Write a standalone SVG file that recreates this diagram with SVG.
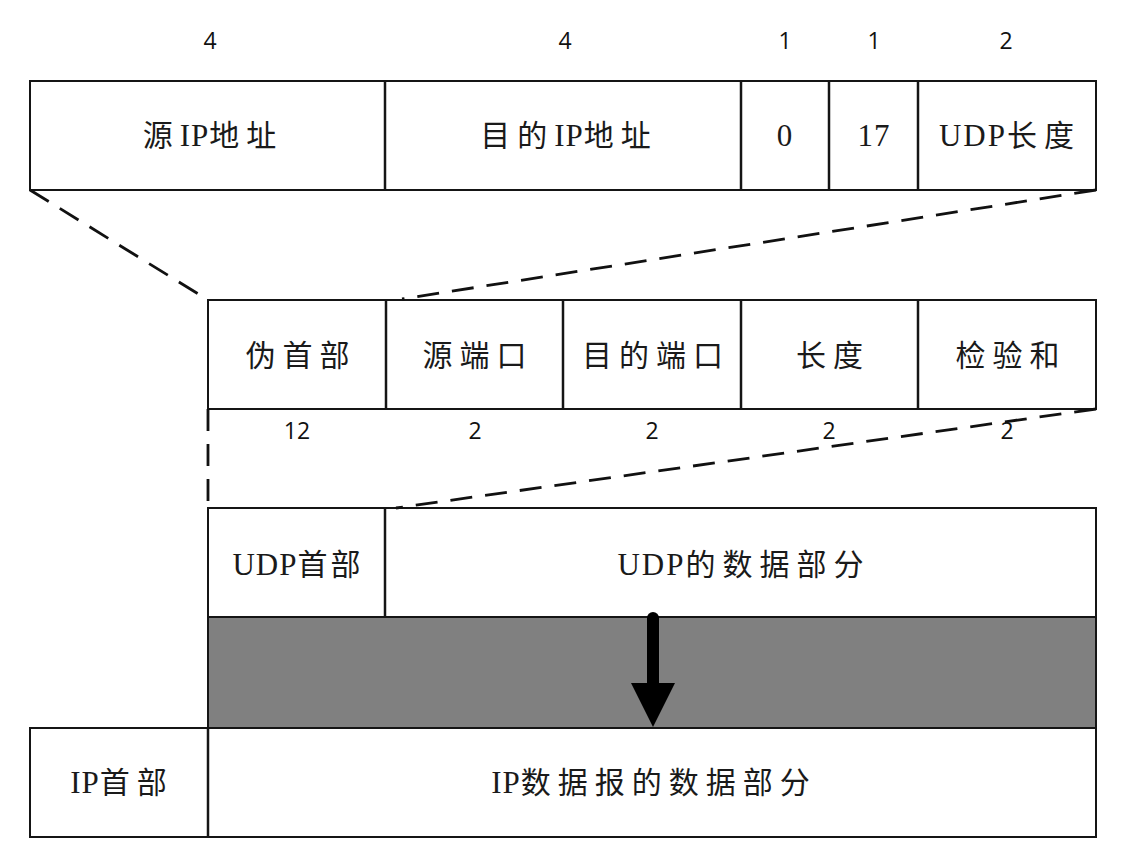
<svg xmlns="http://www.w3.org/2000/svg" width="1135" height="852" viewBox="0 0 1135 852">
  <style>
    .box { fill: #ffffff; stroke: #151515; stroke-width: 2; }
    .grey { fill: #808080; stroke: #151515; stroke-width: 2; }
    .div { stroke: #151515; stroke-width: 2.5; }
    .dash { fill: none; stroke: #111; stroke-width: 2.8; stroke-dasharray: 22 13; }
    .lbl { font-family: "Liberation Serif", "Noto Sans CJK SC", serif; font-size: 30px; fill: #1a1a1a; text-anchor: middle; letter-spacing: 7px; }
    .lat { letter-spacing: 1px; font-size: 31px; }
    .num { font-family: "Open Sans", "Liberation Sans", sans-serif; font-size: 23px; fill: #111; text-anchor: middle; }
  </style>
  <rect width="1135" height="852" fill="#ffffff"/>

  <!-- pseudo header: field sizes -->
  <g id="pseudo-sizes">
    <text class="num" x="210" y="49">4</text>
    <text class="num" x="565" y="49">4</text>
    <text class="num" x="785" y="49">1</text>
    <text class="num" x="874" y="49">1</text>
    <text class="num" x="1006" y="49">2</text>
  </g>

  <!-- pseudo header fields -->
  <g id="pseudo-header">
    <rect class="box" x="30" y="81" width="1066" height="109"/>
    <line class="div" x1="385" y1="81" x2="385" y2="190"/>
    <line class="div" x1="741" y1="81" x2="741" y2="190"/>
    <line class="div" x1="829" y1="81" x2="829" y2="190"/>
    <line class="div" x1="918" y1="81" x2="918" y2="190"/>
    <text class="lbl" x="213" y="146">源<tspan class="lat">IP</tspan>地址</text>
    <text class="lbl" x="569" y="146">目的<tspan class="lat">IP</tspan>地址</text>
    <text class="lbl lat" x="785" y="146">0</text>
    <text class="lbl lat" x="874" y="146">17</text>
    <text class="lbl" x="1010" y="146"><tspan class="lat" style="letter-spacing:2px">UDP</tspan>长度</text>
  </g>

  <!-- UDP user datagram header row -->
  <g id="udp-header">
    <rect class="box" x="208" y="300" width="888" height="109"/>
    <line class="div" x1="386" y1="300" x2="386" y2="409"/>
    <line class="div" x1="563" y1="300" x2="563" y2="409"/>
    <line class="div" x1="741" y1="300" x2="741" y2="409"/>
    <line class="div" x1="918" y1="300" x2="918" y2="409"/>
    <text class="lbl" x="301" y="366">伪首部</text>
    <text class="lbl" x="478" y="366">源端口</text>
    <text class="lbl" x="656" y="366">目的端口</text>
    <text class="lbl" x="833" y="366">长度</text>
    <text class="lbl" x="1011" y="366">检验和</text>
  </g>

  <!-- UDP header field sizes -->
  <g id="udp-sizes">
    <text class="num" x="297" y="439">12</text>
    <text class="num" x="475" y="439">2</text>
    <text class="num" x="652" y="439">2</text>
    <text class="num" x="829" y="439">2</text>
    <text class="num" x="1007" y="439">2</text>
  </g>

  <!-- UDP datagram -->
  <g id="udp-datagram">
    <rect class="box" x="208" y="508" width="888" height="109"/>
    <line class="div" x1="385" y1="508" x2="385" y2="617"/>
    <text class="lbl" x="298" y="575" style="letter-spacing:3px"><tspan class="lat">UDP</tspan>首部</text>
    <text class="lbl" x="744" y="575"><tspan class="lat" style="letter-spacing:2px">UDP</tspan>的数据部分</text>
  </g>

  <!-- encapsulation band -->
  <g id="encapsulation">
    <rect class="grey" x="208" y="617" width="888" height="111"/>
  </g>

  <!-- IP datagram -->
  <g id="ip-datagram">
    <rect class="box" x="30" y="728" width="1066" height="109"/>
    <line class="div" x1="208" y1="728" x2="208" y2="837"/>
    <text class="lbl" x="122" y="793"><tspan class="lat">IP</tspan>首部</text>
    <text class="lbl" x="654" y="793"><tspan class="lat">IP</tspan>数据报的数据部分</text>
  </g>

  <!-- connectors -->
  <g id="connectors">
    <line class="dash" x1="30" y1="190" x2="208" y2="300"/>
    <line class="dash" x1="1096" y1="190" x2="402" y2="299"/>
    <line class="dash" x1="208" y1="409" x2="208" y2="508"/>
    <line class="dash" x1="1096" y1="409" x2="396" y2="508"/>
    <line x1="653" y1="618" x2="653" y2="690" stroke="#000" stroke-width="12" stroke-linecap="round"/>
    <polygon points="631,683 675,683 653,727" fill="#000"/>
  </g>
</svg>
